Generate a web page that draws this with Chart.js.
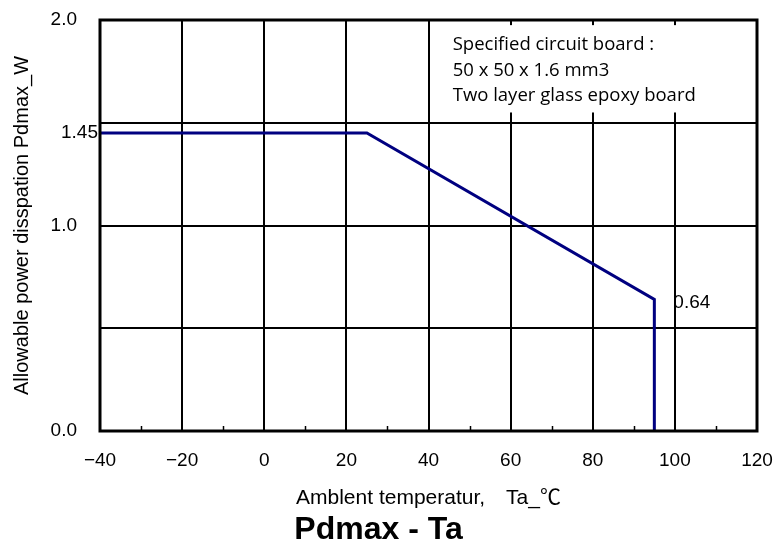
<!DOCTYPE html>
<html>
<head>
<meta charset="utf-8">
<script src="https://cdn.jsdelivr.net/npm/chart.js@4/dist/chart.umd.min.js"></script>
<style>
  html, body { margin: 0; padding: 0; background: #fff; }
  #wrap { width: 779px; height: 547px; }
</style>
</head>
<body>
<div id="wrap"><canvas id="pdChart" width="779" height="547"></canvas></div>
<script>
// Derating curve: ambient temperature (deg C) vs allowable power dissipation (W)
const tempC = [-40, 25, 95, 95];
const pdmaxW = [1.45, 1.45, 0.64, 0];

const xMinorTicks = [-30, -10, 10, 30, 50, 70, 90, 110];
const yGridValues = [0, 0.5, 1.0, 1.45, 1.5, 2.0];
const yLabelValues = [0, 1.0, 2.0];

const boardNote = ['Specified circuit board :', '50 x 50 x 1.6 mm3', 'Two layer glass epoxy board'];
const xTitle = 'Amblent temperatur,\u3000Ta_\u2103';
const yTitle = 'Allowable power disspation Pdmax_W';
const chartTitle = 'Pdmax - Ta';

const sansFont = '"Liberation Sans", Arial, "Noto Sans CJK JP", sans-serif';
const ratedPower = pdmaxW[0];
const hidden = 'rgba(0,0,0,0)';

const frameAndNotes = {
    id: 'frameAndNotes',
    beforeDatasetsDraw(chart) {
        const { ctx, chartArea: a, scales: { x, y } } = chart;
        // white note box sitting over the upper right grid cells
        const left = x.getPixelForValue(42);
        const top = y.getPixelForValue(1.975);
        const bottom = y.getPixelForValue(1.55);
        ctx.save();
        ctx.fillStyle = '#fff';
        ctx.fillRect(left, top, a.right - left, bottom - top);
        ctx.fillStyle = '#000';
        ctx.font = '18.5px "Open Sans", "Noto Sans", sans-serif';
        ctx.textBaseline = 'alphabetic';
        ctx.textAlign = 'left';
        boardNote.forEach((line, i) => ctx.fillText(line, left + 16, top + 25 + i * 25.5));
        ctx.restore();
    },
    afterDraw(chart) {
        const { ctx, chartArea: a, scales: { x, y } } = chart;
        ctx.save();
        // heavy frame round the plot
        ctx.strokeStyle = '#000';
        ctx.lineWidth = 3;
        ctx.strokeRect(a.left, a.top, a.right - a.left, a.bottom - a.top);

        // minor ticks on the bottom axis, pointing inwards
        ctx.lineWidth = 1.5;
        ctx.beginPath();
        xMinorTicks.forEach(v => {
            const px = Math.round(x.getPixelForValue(v)) + 0.5;
            ctx.moveTo(px, a.bottom);
            ctx.lineTo(px, a.bottom - 5);
        });
        ctx.stroke();

        // value labels
        ctx.fillStyle = '#000';
        ctx.font = '19px ' + sansFont;
        ctx.textBaseline = 'middle';
        ctx.textAlign = 'right';
        ctx.fillText(ratedPower.toFixed(2), a.left - 2, y.getPixelForValue(ratedPower));
        ctx.textAlign = 'left';
        ctx.fillText(pdmaxW[2].toFixed(2), x.getPixelForValue(tempC[2]) + 19, y.getPixelForValue(pdmaxW[2]) + 3);
        ctx.restore();
    }
};

new Chart(document.getElementById('pdChart'), {
    type: 'scatter',
    data: {
        datasets: [{
            data: tempC.map((t, i) => ({ x: t, y: pdmaxW[i] })),
            showLine: true,
            borderColor: '#000080',
            borderWidth: 3,
            borderJoinStyle: 'miter',
            pointRadius: 0,
            tension: 0
        }]
    },
    options: {
        responsive: false,
        animation: false,
        layout: { padding: { top: 20, right: 22, left: 0, bottom: 0 } },
        plugins: {
            legend: { display: false },
            tooltip: { enabled: false },
            title: {
                display: true,
                position: 'bottom',
                text: chartTitle,
                color: '#000',
                font: { family: sansFont, size: 32, weight: 'bold', lineHeight: 1 },
                padding: { top: 0, bottom: 1 }
            }
        },
        scales: {
            x: {
                type: 'linear',
                min: -40,
                max: 120,
                ticks: {
                    stepSize: 20,
                    padding: 0,
                    color: '#000',
                    font: { family: sansFont, size: 19 },
                    callback: v => String(v).replace('-', '\u2212')
                },
                // tick marks are kept invisible; their length only spaces the labels off the axis
                grid: { color: '#000', lineWidth: 2, drawTicks: true, tickLength: 18, tickColor: hidden },
                border: { display: false },
                title: {
                    display: true,
                    text: xTitle,
                    color: '#000',
                    font: { family: sansFont, size: 21 },
                    padding: { top: 0, bottom: 3 }
                },
                afterFit: s => { s.height = 83; }
            },
            y: {
                type: 'linear',
                min: 0,
                max: 2,
                afterBuildTicks: s => { s.ticks = yGridValues.map(v => ({ value: v })); },
                ticks: {
                    padding: 0,
                    color: '#000',
                    font: { family: sansFont, size: 19 },
                    callback: v => yLabelValues.includes(v) ? v.toFixed(1) : ''
                },
                grid: {
                    color: c => (c.tick && c.tick.value === ratedPower) ? hidden : '#000',
                    lineWidth: 2,
                    drawTicks: true,
                    tickLength: 23,
                    tickColor: hidden
                },
                border: { display: false },
                title: {
                    display: true,
                    text: yTitle,
                    color: '#000',
                    font: { family: sansFont, size: 20 },
                    padding: { top: 10, bottom: 0 }
                },
                afterFit: s => { s.width = 100; }
            }
        }
    },
    plugins: [frameAndNotes]
});
</script>
</body>
</html>
